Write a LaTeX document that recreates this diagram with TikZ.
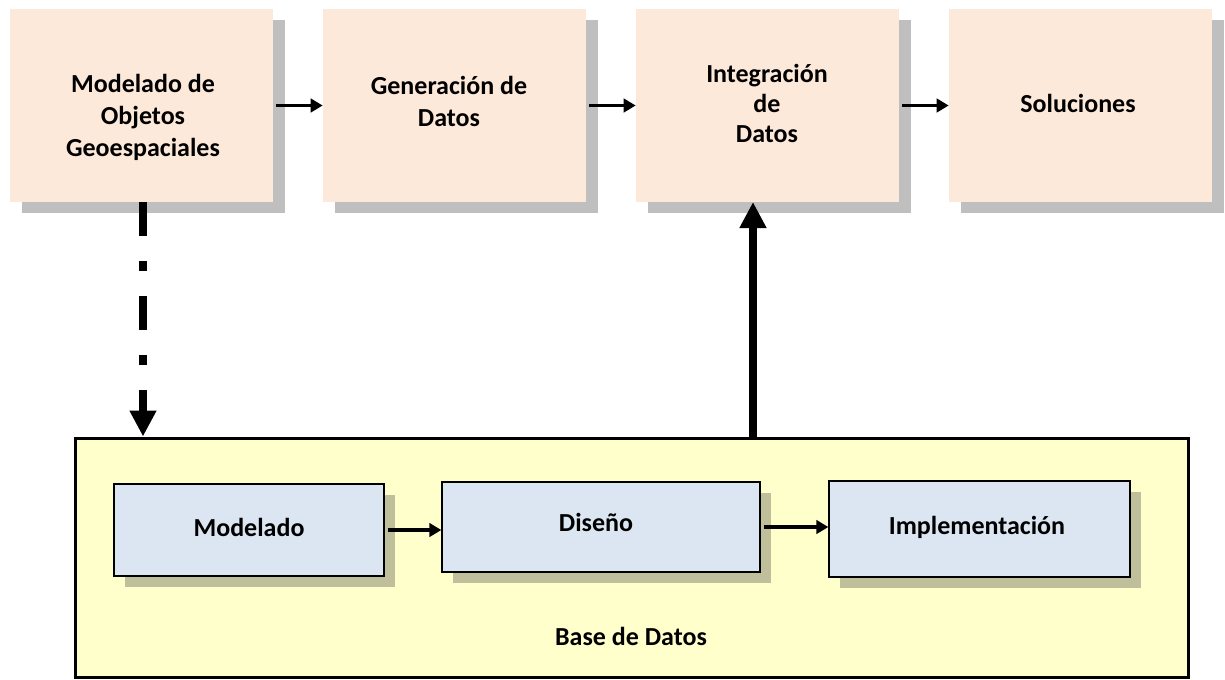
\documentclass[tikz,border=0pt]{standalone}
\usepackage{fontspec}
\setmainfont{Carlito}
\usetikzlibrary{arrows.meta,shadows}
\definecolor{peach}{HTML}{FDE9D9}
\definecolor{shgray}{HTML}{BFBFBF}
\definecolor{dbyellow}{HTML}{FFFFCC}
\definecolor{inblue}{HTML}{DCE6F2}
\definecolor{inshadow}{HTML}{BFBF9C}
\tikzset{
  topbox/.style={rectangle, fill=peach, minimum width=197.25pt, minimum height=144.75pt,
    inner sep=0pt,
    general shadow={fill=shgray, shadow xshift=9pt, shadow yshift=-8.25pt}},
  toptext/.style={inner sep=0pt, align=center, font=\fontsize{19.5pt}{24pt}\selectfont\bfseries},
  inbox/.style={rectangle, draw=black, line width=0.9pt, fill=inblue, inner sep=0pt,
    general shadow={fill=inshadow, shadow xshift=8.5pt, shadow yshift=-8.5pt}},
  intext/.style={inner sep=0pt, font=\fontsize{19.5pt}{24pt}\selectfont\bfseries},
  flowarrow/.style={line width=2.4pt, -{Triangle[length=9pt,width=10pt]}},
  bigarrow/.style={line width=6pt, -{Triangle[length=19.5pt,width=19pt]}},
}
\begin{document}
\begin{tikzpicture}[x=0.75pt,y=-0.75pt]
\useasboundingbox (0,0) rectangle (1225,679);
% top boxes
\node[topbox] (b1) at (141.5,105.5) {};
\node[topbox] (b2) at (454.5,105.5) {};
\node[topbox] (b3) at (767.5,105.5) {};
\node[topbox] (b4) at (1080.5,105.5) {};
\node[toptext] (t1) at (143,117) {Modelado de\\Objetos\\Geoespaciales};
\node[toptext] (t2) at (449,101) {Generación de\\Datos};
\node[toptext, font=\fontsize{19.5pt}{22.5pt}\selectfont\bfseries] (t3) at (767,103) {Integración\\de\\Datos};
\node[toptext] (t4) at (1078,103) {Soluciones};
% container
\node[rectangle, draw=black, line width=2.25pt, fill=dbyellow,
  minimum width=834.75pt, minimum height=179.25pt, inner sep=0pt] (db) at (631.5,557.5) {};
\node[intext] (dbl) at (631,636) {Base de Datos};
% inner boxes
\node[inbox, minimum width=202.5pt, minimum height=69pt] (m1) at (249,530) {};
\node[inbox, minimum width=238.5pt, minimum height=67.5pt] (m2) at (601,527) {};
\node[inbox, minimum width=225.75pt, minimum height=72pt] (m3) at (979.5,529) {};
\node[intext] (n1) at (249,527) {Modelado};
\node[intext] (n2) at (596,522) {Diseño};
\node[intext] (n3) at (977,527) {Implementación};
% arrows
\draw[flowarrow] ([xshift=2.25pt]b1.east) -- (b2.west);
\draw[flowarrow] ([xshift=2.25pt]b2.east) -- (b3.west);
\draw[flowarrow] ([xshift=2.25pt]b3.east) -- (b4.west);
\draw[flowarrow] ([xshift=2.25pt]m1.east) -- (m2.west |- m1.east);
\draw[flowarrow] ([xshift=2.25pt]m2.east) -- (m3.west |- m2.east);
\coordinate (dtop) at (143,202);
\draw[bigarrow, dash pattern=on 25.5pt off 18.75pt on 7.5pt off 18.75pt]
  (dtop) -- (dtop |- db.north);
\coordinate (utop) at (753,202);
\draw[bigarrow] (utop |- db.north) -- (utop);
\end{tikzpicture}
\end{document}
